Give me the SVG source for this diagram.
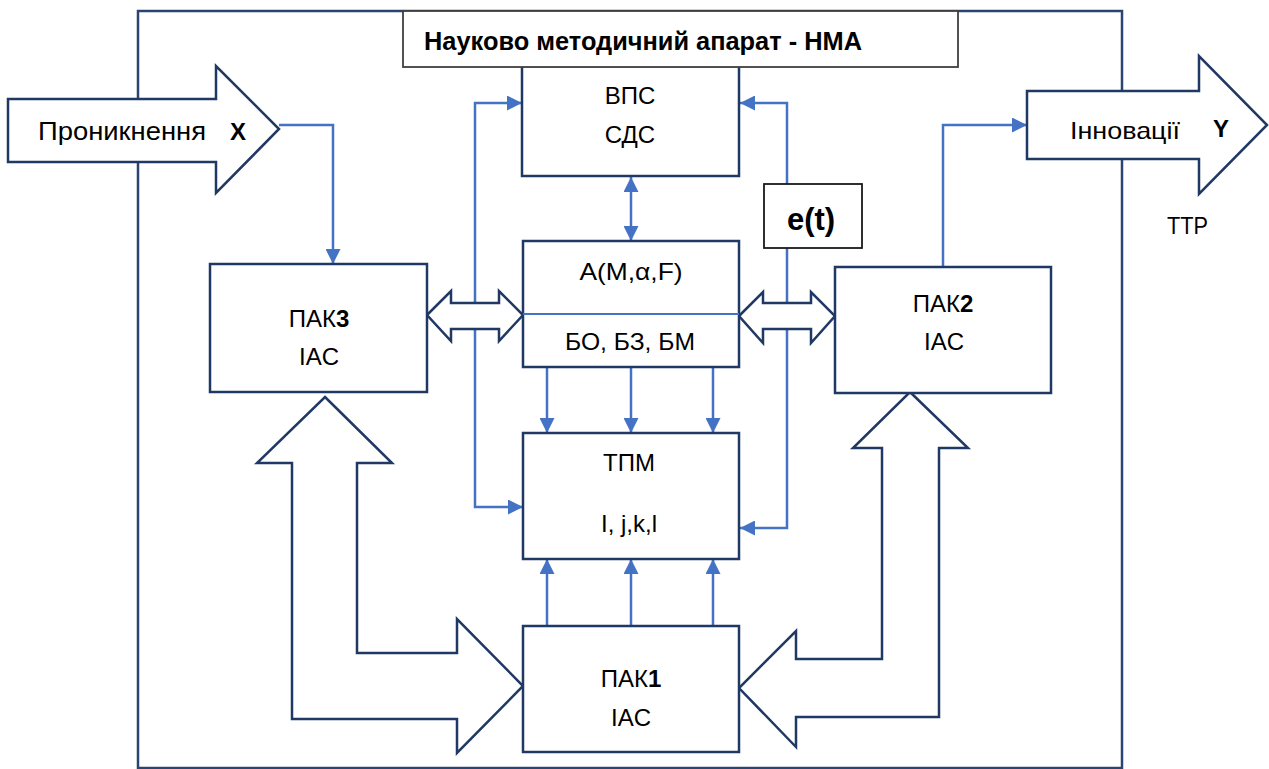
<svg xmlns="http://www.w3.org/2000/svg" width="1269" height="769" viewBox="0 0 1269 769">
<defs>
<style>
.box{fill:#fff;stroke:#203864;stroke-width:2.5}
.barrow{fill:#fff;stroke:#203864;stroke-width:2.5;stroke-linejoin:miter}
.conn{fill:none;stroke:#4472C4;stroke-width:2.5}
.t{font-family:"Liberation Sans",Arial,sans-serif;font-size:24px;fill:#000}
.c{text-anchor:middle}
.b{font-weight:bold}
</style>
<marker id="ah" markerUnits="userSpaceOnUse" markerWidth="15" markerHeight="15" refX="15" refY="7.5" orient="auto-start-reverse" viewBox="0 0 15 15">
<path d="M0,0 L15,7.5 L0,15 z" fill="#4472C4"/>
</marker>
</defs>
<rect width="1269" height="769" fill="#fff"/>
<g id="frame">
<rect x="138" y="11" width="984" height="757" fill="none" stroke="#2B4470" stroke-width="2.5"/>
</g>
<g id="connectors">
<polyline class="conn" points="279,125 333,125 333,264" marker-end="url(#ah)"/>
<polyline class="conn" points="943,267 943,125 1027,125" marker-end="url(#ah)"/>
<polyline class="conn" points="522,103 475,103 475,507 523,507" marker-start="url(#ah)" marker-end="url(#ah)"/>
<polyline class="conn" points="787,184 787,103 740,103" marker-end="url(#ah)"/>
<polyline class="conn" points="787,248 787,528 740,528" marker-end="url(#ah)"/>
<line class="conn" x1="631" y1="177" x2="631" y2="241" marker-start="url(#ah)" marker-end="url(#ah)"/>
<line class="conn" x1="547" y1="367" x2="547" y2="433" marker-end="url(#ah)"/>
<line class="conn" x1="631" y1="367" x2="631" y2="433" marker-end="url(#ah)"/>
<line class="conn" x1="713" y1="367" x2="713" y2="433" marker-end="url(#ah)"/>
<line class="conn" x1="547" y1="626" x2="547" y2="559" marker-end="url(#ah)"/>
<line class="conn" x1="631" y1="626" x2="631" y2="559" marker-end="url(#ah)"/>
<line class="conn" x1="713" y1="626" x2="713" y2="559" marker-end="url(#ah)"/>
</g>
<g id="block-arrows">
<polygon class="barrow" points="8,99 216,99 216,66 279,129 216,193 216,162 8,162"/>
<polygon class="barrow" points="1027,91 1199,91 1199,56 1267,125 1199,194 1199,159 1027,159"/>
<polygon class="barrow" points="325,397 392,463 357,463 357,653 457,653 457,619 523,686 457,753 457,719 292,719 292,463 257,463"/>
<polygon class="barrow" points="910,392 968,448 939,448 939,717 796,717 796,747 739,688 796,631 796,659 882,659 882,448 853,448"/>
<polygon class="barrow" points="427,315 451,291 451,303 499,303 499,291 523,315 499,341 499,329 451,329 451,341"/>
<polygon class="barrow" points="739,316 763,292 763,303 811,303 811,292 835,316 811,343 811,329 763,329 763,343"/>
</g>
<g id="input-label">
<text class="t" x="38" y="140" style="font-size:25px" textLength="168" lengthAdjust="spacingAndGlyphs">Проникнення</text>
<text class="t b" x="230" y="140">X</text>
</g>
<g id="output-label">
<text class="t" x="1070" y="139" textLength="110" lengthAdjust="spacingAndGlyphs">Інновації</text>
<text class="t b" x="1213" y="137">Y</text>
<text class="t" x="1167" y="234" textLength="41" lengthAdjust="spacingAndGlyphs">TTP</text>
</g>
<g id="vps">
<rect class="box" x="522" y="66" width="217" height="110"/>
<text class="t c" x="630" y="104">ВПС</text>
<text class="t c" x="630" y="143">СДС</text>
</g>
<g id="title">
<rect x="403" y="11" width="555" height="56" fill="#fff" stroke="#404040" stroke-width="1.8"/>
<text class="t b" x="424" y="50" style="font-size:25px" textLength="438" lengthAdjust="spacingAndGlyphs">Науково методичний апарат - НМА</text>
</g>
<g id="et">
<rect x="764" y="184" width="98" height="64" fill="#fff" stroke="#1a1a1a" stroke-width="1.8"/>
<text class="t b c" x="811" y="230" style="font-size:31px">e(t)</text>
</g>
<g id="model">
<rect class="box" x="523" y="241" width="216" height="126"/>
<line x1="523" y1="314" x2="739" y2="314" stroke="#4472C4" stroke-width="2"/>
<text class="t c" x="631" y="280" textLength="103" lengthAdjust="spacingAndGlyphs">A(M,α,F)</text>
<text class="t c" x="630" y="350" textLength="130" lengthAdjust="spacingAndGlyphs">БО, БЗ, БМ</text>
</g>
<g id="tpm">
<rect class="box" x="523" y="433" width="216" height="126"/>
<text class="t c" x="629" y="471">ТПМ</text>
<text class="t c" x="629" y="532">I, j,k,l</text>
</g>
<g id="pak1">
<rect class="box" x="523" y="626" width="216" height="126"/>
<text class="t c" x="631" y="687">ПАК<tspan class="b">1</tspan></text>
<text class="t c" x="631" y="726">IAC</text>
</g>
<g id="pak3">
<rect class="box" x="210" y="264" width="217" height="128"/>
<text class="t c" x="319" y="327">ПАК<tspan class="b">3</tspan></text>
<text class="t c" x="319" y="365">IAC</text>
</g>
<g id="pak2">
<rect class="box" x="835" y="267" width="216" height="126"/>
<text class="t c" x="943" y="312">ПАК<tspan class="b">2</tspan></text>
<text class="t c" x="944" y="350">IAC</text>
</g>
</svg>
